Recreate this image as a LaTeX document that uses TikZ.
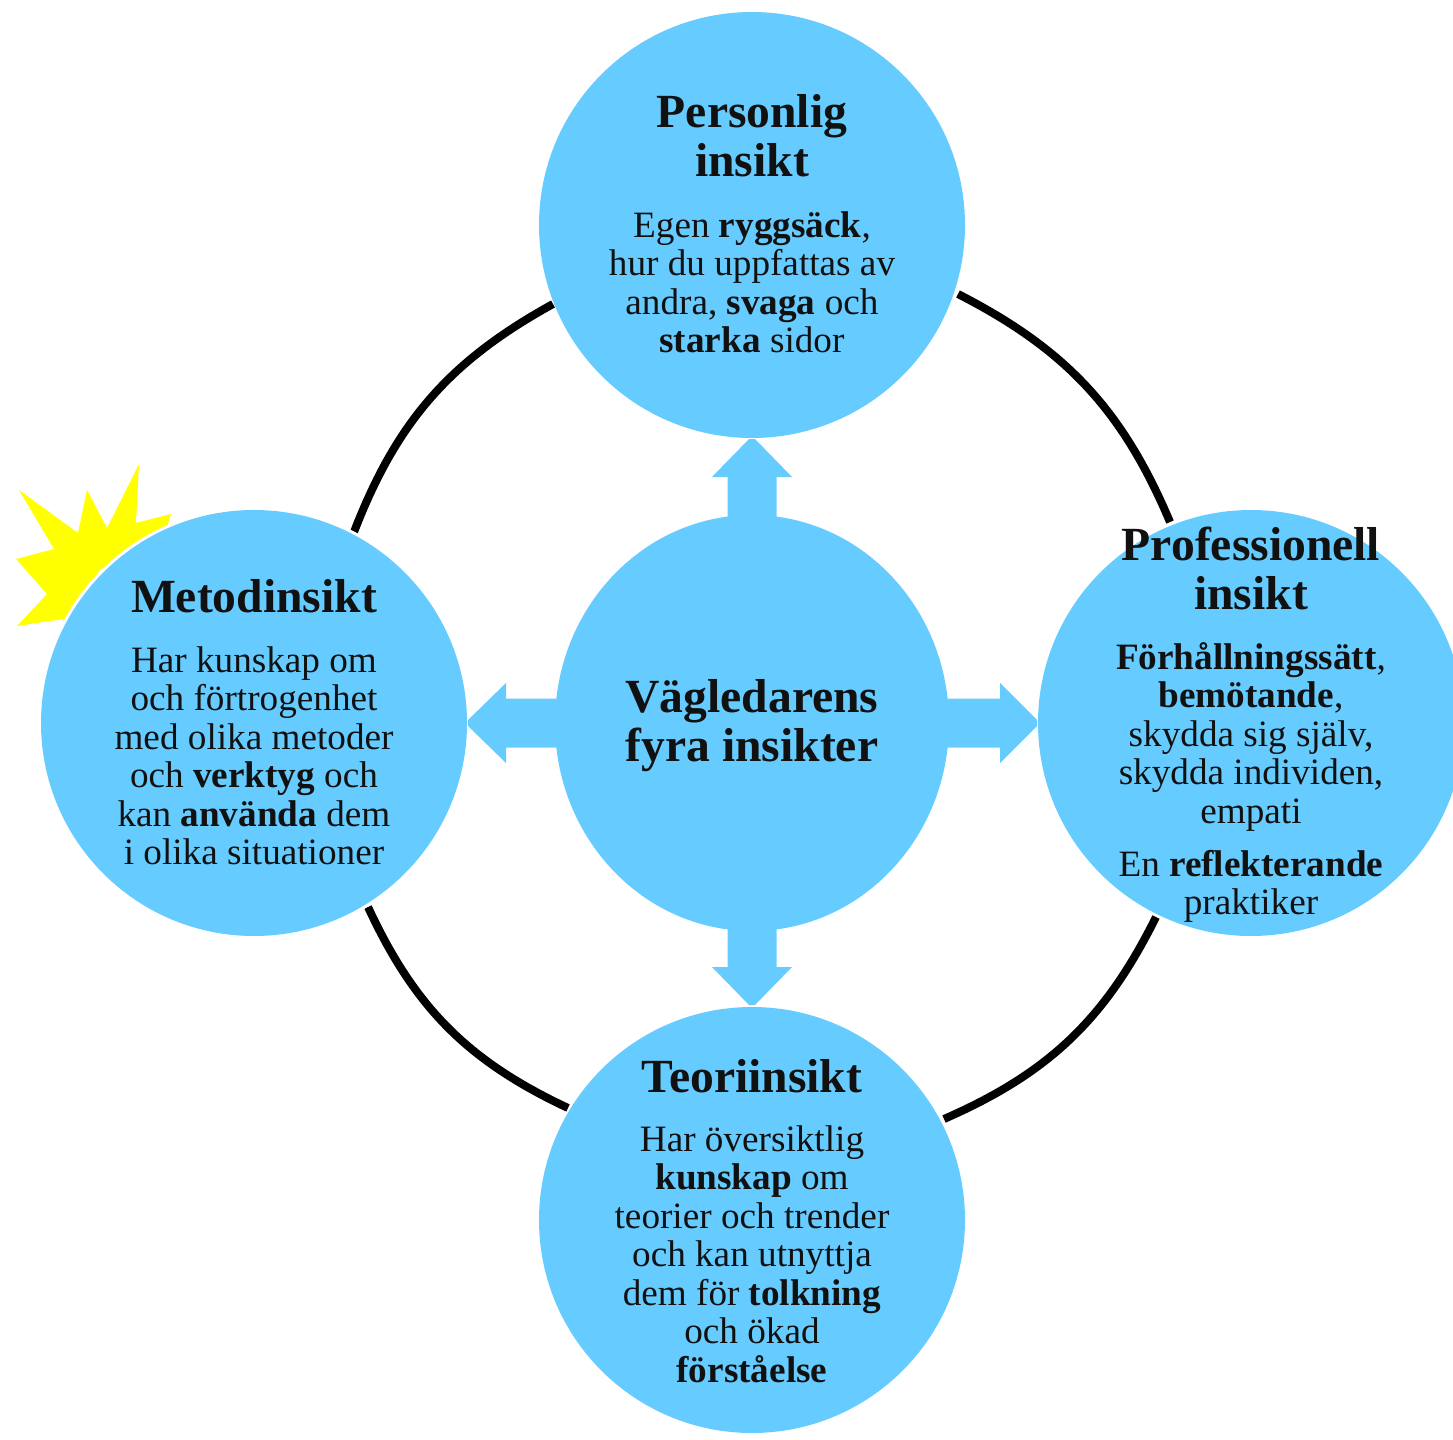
\documentclass[tikz,border=0pt]{standalone}
\usepackage{fontspec}
\setmainfont{Liberation Serif}
\usetikzlibrary{calc}
\definecolor{sky}{HTML}{66CCFF}
\definecolor{ink}{HTML}{111111}
\definecolor{sun}{RGB}{255,255,0}
\tikzset{
  x=0.5pt,y=-0.5pt,
  disc/.style={circle,fill=sky,draw=none,inner sep=0pt,minimum size=213pt},
  hub/.style={ellipse,fill=sky,draw=none,inner sep=0pt,minimum width=197pt,minimum height=208pt},
  arcline/.style={draw=black,line width=4pt},
  blockarrow/.style={fill=sky,draw=none},
  head/.style={anchor=north,inner sep=0pt,align=center,text=ink,font=\fontsize{23.8}{24.5}\selectfont\bfseries},
  body/.style={anchor=north,inner sep=0pt,align=center,text=ink,font=\fontsize{18.6}{19.25}\selectfont},
}
\usetikzlibrary{shapes.geometric}
\begin{document}
\begin{tikzpicture}
\useasboundingbox (0,0) rectangle (1453,1440);
\clip (0,0) rectangle (1453,1440);
% arcs between the discs
\coordinate (tra) at (958,294);
\coordinate (trb) at (1170,522);
\coordinate (bra) at (1156,917);
\coordinate (brb) at (944,1119);
\coordinate (bla) at (568,1108);
\coordinate (blb) at (368,907);
\coordinate (tla) at (354,532);
\coordinate (tlb) at (553,304);
\draw[arcline] (tra) to[bend left=20] (trb);
\draw[arcline] (bra) to[bend left=20] (brb);
\draw[arcline] (bla) to[bend left=20] (blb);
\draw[arcline] (tla) to[bend left=20] (tlb);
% sun
\fill[sun] (19,490) -- (78,533) -- (87,490) -- (107,528) -- (139,464) -- (136,523) -- (171,514) -- (166,530)
  -- (100,570) -- (63,623) -- (63,619) -- (17,626) -- (47,594) -- (16,559) -- (54,549) -- cycle;
\node[circle,fill=white,inner sep=0pt,minimum size=216pt] at (254,723) {};
% discs
\node[disc] (top) at (752,225) {};
\node[disc] (left) at (254,723) {};
\node[disc] (right) at (1251,723) {};
\node[disc] (bottom) at (752,1220) {};
\node[hub] (hub) at (752,723) {};
% block arrows
\foreach \ang/\bs/\tp in {0/248/285,90/246/284,180/246/284,270/244/282}{
  \begin{scope}[shift={(hub)},rotate=\ang]
    \fill[blockarrow] (150,-24.5) -- (\bs,-24.5) -- (\bs,-40) -- (\tp,-3) -- (\tp,3) -- (\bs,40) -- (\bs,24.5) -- (150,24.5) -- cycle;
  \end{scope}
}
% texts
\node[head] (h1) at (752,93) {\strut Personlig\\insikt};
\node[body] (b1) at (752,210) {\strut Egen \textbf{ryggsäck},\\hur du uppfattas av\\andra, \textbf{svaga} och\\\textbf{starka} sidor};
\node[head] (h2) at (254,578) {\strut Metodinsikt};
\node[body] (b2) at (254,645) {\strut Har kunskap om\\och förtrogenhet\\med olika metoder\\och \textbf{verktyg} och\\kan \textbf{använda} dem\\i olika situationer};
\node[head] (h3) at (1251,526) {\strut Professionell\\insikt};
\node[body] (b3) at (1251,642) {\strut \textbf{Förhållningssätt},\\\textbf{bemötande},\\skydda sig själv,\\skydda individen,\\empati\\[7.25pt]En \textbf{reflekterande}\\praktiker};
\node[head] (h4) at (752,1058) {\strut Teoriinsikt};
\node[body] (b4) at (752,1124) {\strut Har översiktlig\\\textbf{kunskap} om\\teorier och trender\\och kan utnyttja\\dem för \textbf{tolkning}\\och ökad\\\textbf{förståelse}};
\node[head] (h5) at (752,678) {\strut Vägledarens\\fyra insikter};
\end{tikzpicture}
\end{document}
